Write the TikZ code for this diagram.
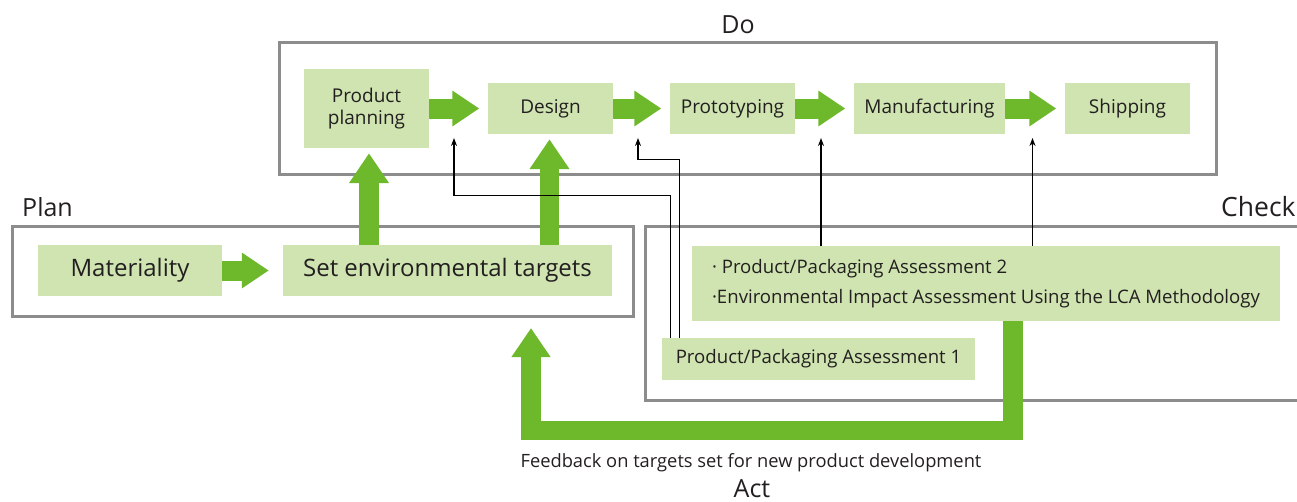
\documentclass[tikz,border=0pt]{standalone}
\usepackage{fontspec}
\setmainfont{Open Sans}
\usetikzlibrary{arrows.meta}
\definecolor{boxgreen}{HTML}{CFE4B0}
\definecolor{arrowgreen}{HTML}{6EB82C}
\definecolor{framegray}{HTML}{8C8C8C}
\definecolor{textdark}{HTML}{231F20}
\begin{document}
\begin{tikzpicture}[x=1pt,y=-1pt,
    stage/.style={fill=boxgreen,text=textdark,inner sep=0pt,align=center,minimum width=125pt,minimum height=51pt,font=\fontsize{19}{22}\selectfont},
    pdcaframe/.style={draw=framegray,line width=3pt},
    phase/.style={text=textdark,inner sep=0pt,font=\fontsize{25}{30}\selectfont},
    flow/.style={draw=arrowgreen,line width=20pt,-{Triangle[width=34pt,length=27pt]},shorten >=8.5pt},
    lift/.style={draw=arrowgreen,line width=19.5pt,-{Triangle[width=38pt,length=30pt]}},
    back/.style={draw=black,line width=1.3pt,-{Stealth[length=8pt,width=6pt]}}]
    \useasboundingbox (0,0) rectangle (1297,501);
    \clip (0,0) rectangle (1297,501);
    \draw[pdcaframe] (279,42) rectangle (1216,174);
    \draw[pdcaframe] (12,226) rectangle (633.5,316);
    \draw[pdcaframe] (645,226.5) rectangle (1320,400);
    \node[phase,anchor=base] (do) at (738,33) {Do};
    \node[phase,anchor=base west] (plan) at (22,216) {Plan};
    \node[phase,anchor=base west,font=\fontsize{26.5}{30}\selectfont] (check) at (1221,216) {Check};
    \node[phase,anchor=base] (act) at (752,497) {Act};
    \node[phase,anchor=base,font=\fontsize{18.3}{20}\selectfont] (fbtext) at (751,467) {Feedback on targets set for new product development};
    \node[stage,minimum height=79pt] (pp) at (366.5,108.5) {Product\\planning};
    \node[stage] (ds) at (550.5,108.5) {Design};
    \node[stage] (pt) at (732.5,108.5) {Prototyping};
    \node[stage,minimum width=151pt] (mf) at (929.5,108.5) {Manufacturing};
    \node[stage] (sh) at (1127.5,108.5) {Shipping};
    \node[stage,minimum width=184pt,font=\fontsize{24}{28}\selectfont] (mt) at (130,270.5) {Materiality};
    \node[stage,minimum width=329pt,font=\fontsize{24}{28}\selectfont] (st) at (447.5,270.5) {Set environmental targets};
    \node[stage,minimum width=588pt,minimum height=75pt,align=left,font=\fontsize{18.6}{30}\selectfont] (a2) at (986,283.5) {·\ Product/Packaging Assessment 2\\·Environmental Impact Assessment Using the LCA Methodology};
    \node[stage,minimum width=313pt,minimum height=42pt,font=\fontsize{18.6}{22}\selectfont] (a1) at (818.5,359) {Product/Packaging Assessment 1};
    \draw[flow] (pp) -- (ds);
    \draw[flow] (ds) -- (pt);
    \draw[flow] (pt) -- (mf);
    \draw[flow] (mf) -- (sh);
    \draw[flow,shorten >=14pt] (mt) -- (st);
    \draw[lift,shorten >=5pt] ([xshift=2.5pt]pp.south |- st.north) -- ([xshift=2.5pt]pp.south);
    \draw[lift,shorten >=5pt] ([xshift=-1pt]ds.south |- st.north) -- ([xshift=-1pt]ds.south);
    \coordinate (t1) at (454,138);
    \coordinate (t2) at (638,138);
    \coordinate (t3) at (821,138);
    \coordinate (t4) at (1032.5,138);
    \draw[back] ([xshift=8.6pt]a1.north west) -- ++(0,-142) -| (t1);
    \draw[back] ([xshift=18pt]a1.north west) -- ++(0,-178) -| (t2);
    \draw[back] (t3 |- a2.north) -- (t3);
    \draw[back] (t4 |- a2.north) -- (t4);
    \coordinate (fbc) at (1013,430.5);
    \coordinate (fbtip) at (531,328);
    \draw[lift,-{Triangle[width=37pt,length=29pt]},line join=miter] (a2.south -| fbc) -- (fbc) -| (fbtip);
\end{tikzpicture}
\end{document}
